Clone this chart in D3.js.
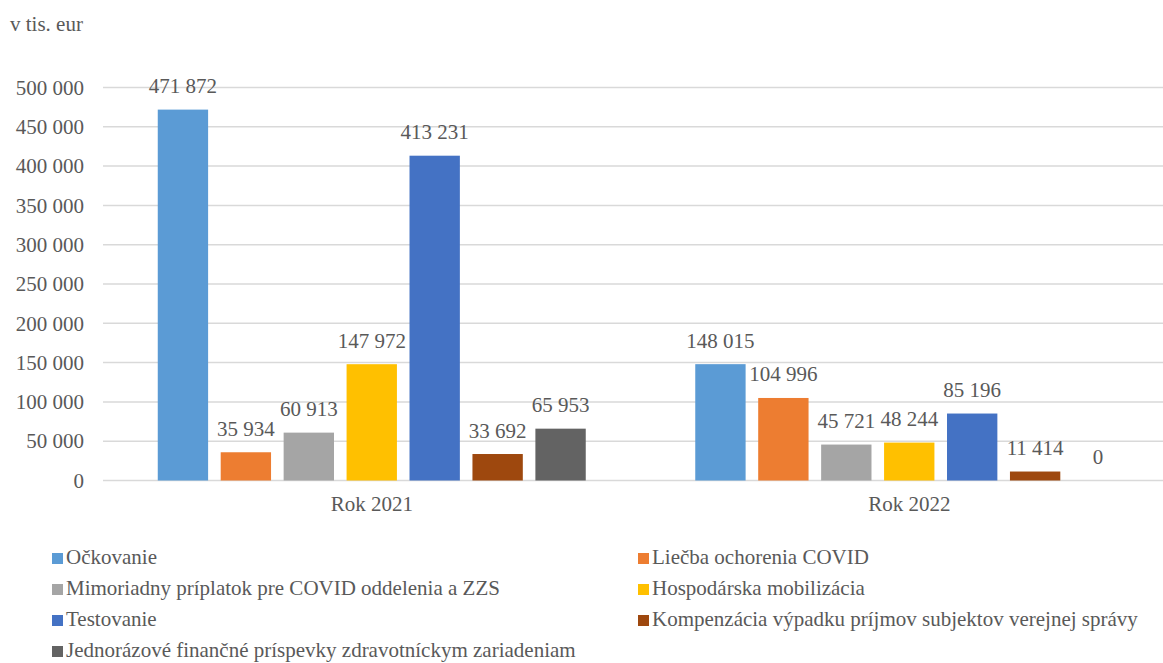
<!DOCTYPE html>
<html>
<head>
<meta charset="utf-8">
<script src="https://cdn.jsdelivr.net/npm/d3@7"></script>
<style>
	body { margin: 0; background: #fff; }
	svg text { font-family: 'Liberation Serif', 'Times New Roman', Times, 'DejaVu Serif', serif; fill: #595959; }
</style>
</head>
<body>
<div id="chart"></div>
<script>
const categories = ["Rok 2021", "Rok 2022"];
const seriesNames = [
	"Očkovanie",
	"Liečba ochorenia COVID",
	"Mimoriadny príplatok pre COVID oddelenia a ZZS",
	"Hospodárska mobilizácia",
	"Testovanie",
	"Kompenzácia výpadku príjmov subjektov verejnej správy",
	"Jednorázové finančné príspevky zdravotníckym zariadeniam"
];
const values2021 = [471872, 35934, 60913, 147972, 413231, 33692, 65953];
const values2022 = [148015, 104996, 45721, 48244, 85196, 11414, 0];
const seriesColors = ["#5b9bd5", "#ed7d31", "#a5a5a5", "#ffc000", "#4472c4", "#9e480e", "#636363"];
const yTicks = [0, 50000, 100000, 150000, 200000, 250000, 300000, 350000, 400000, 450000, 500000];

const width = 1163, height = 663;
const serif = "'Liberation Serif', 'Times New Roman', Times, 'DejaVu Serif', serif";
const fmt = v => d3.format(",")(v).replace(/,/g, " ");

const data = categories.map((c, i) => ({
	cat: c,
	vals: seriesNames.map((s, j) => ({key: s, idx: j, value: [values2021, values2022][i][j]}))
}));

const svg = d3.select("#chart").append("svg")
	.attr("width", width)
	.attr("height", height)
	.attr("font-family", serif);

const x0 = d3.scaleBand()
	.domain(categories)
	.range([103, 1178]);

const x1 = d3.scaleBand()
	.domain(seriesNames)
	.range([0, x0.bandwidth()])
	.paddingInner(0.2)
	.paddingOuter(0.87);

const y = d3.scaleLinear()
	.domain([0, 500000])
	.range([480.5, 87.5]);

// unit label
svg.append("text")
	.attr("x", 10)
	.attr("y", 31)
	.style("font-size", "21px")
	.text("v tis. eur");

// gridlines
svg.append("g")
	.selectAll("line")
	.data(yTicks)
	.enter().append("line")
	.attr("x1", 103)
	.attr("x2", width)
	.attr("y1", d => y(d))
	.attr("y2", d => y(d))
	.attr("stroke", "#d9d9d9")
	.attr("stroke-width", 1.5);

// y axis labels
const yAxis = d3.axisLeft(y).tickValues(yTicks).tickFormat(fmt).tickSize(0).tickPadding(0);
const yg = svg.append("g")
	.attr("transform", "translate(84,0)")
	.call(yAxis)
	.attr("font-family", serif)
	.attr("font-size", 21);
yg.select(".domain").remove();
yg.selectAll("text").attr("fill", "#595959");

// x axis labels
const xAxis = d3.axisBottom(x0).tickSize(0).tickPadding(0);
const xg = svg.append("g")
	.attr("transform", "translate(0,496)")
	.call(xAxis)
	.attr("font-family", serif)
	.attr("font-size", 21);
xg.select(".domain").remove();
xg.selectAll("text").attr("fill", "#595959");

// bars
const groups = svg.selectAll(".group")
	.data(data)
	.enter().append("g")
	.attr("class", "group")
	.attr("transform", d => "translate(" + x0(d.cat) + ",0)");

groups.selectAll("rect")
	.data(d => d.vals)
	.enter().append("rect")
	.attr("x", d => x1(d.key))
	.attr("y", d => y(d.value))
	.attr("width", x1.bandwidth())
	.attr("height", d => y(0) - y(d.value))
	.style("fill", d => seriesColors[d.idx]);

groups.selectAll(".lbl")
	.data(d => d.vals)
	.enter().append("text")
	.attr("class", "lbl")
	.attr("x", d => x1(d.key) + x1.bandwidth() / 2)
	.attr("y", d => y(d.value) - 16.5)
	.attr("text-anchor", "middle")
	.style("font-size", "21px")
	.text(d => fmt(d.value));

// legend
const legend = svg.selectAll(".legend")
	.data(seriesNames)
	.enter().append("g")
	.attr("class", "legend")
	.attr("transform", (d, i) => "translate(" + (i % 2 === 0 ? 52 : 638) + "," + (564 + Math.floor(i / 2) * 31) + ")");

legend.append("rect")
	.attr("x", 0)
	.attr("y", -11)
	.attr("width", 11)
	.attr("height", 11)
	.style("fill", (d, i) => seriesColors[i]);

legend.append("text")
	.attr("x", 14)
	.attr("y", 0)
	.style("font-size", "21px")
	.text(String);
</script>
</body>
</html>
